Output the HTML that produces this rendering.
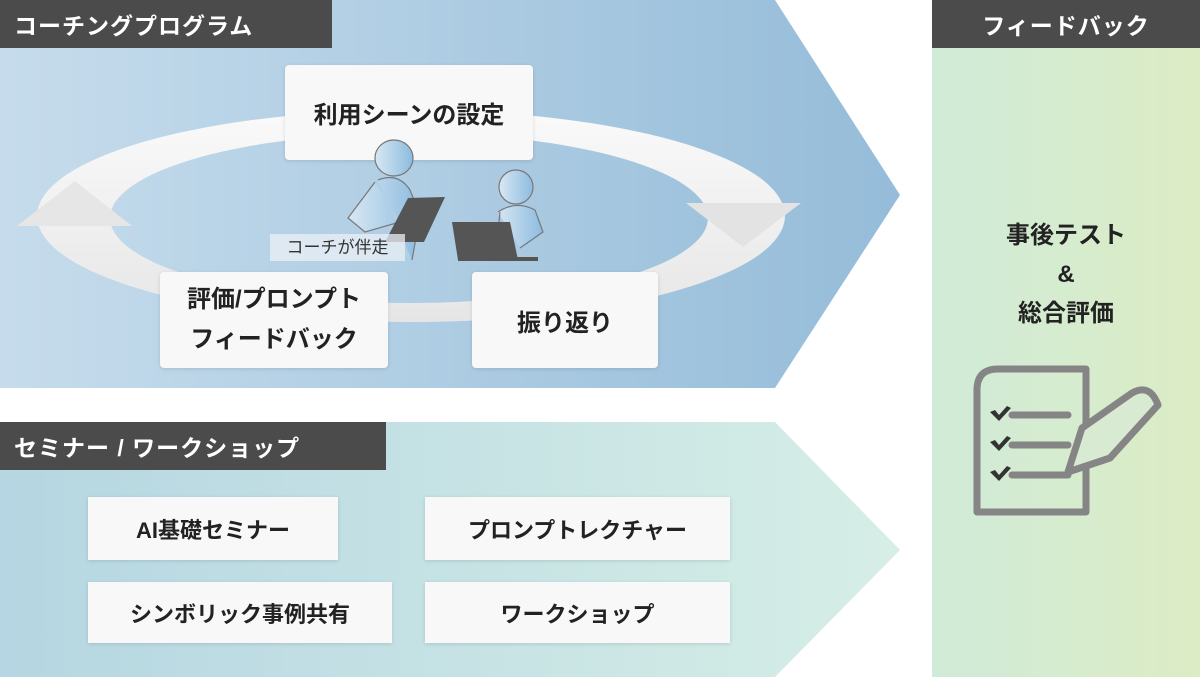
<!DOCTYPE html>
<html><head><meta charset="utf-8"><style>
body{margin:0;width:1200px;height:677px;position:relative;overflow:hidden;background:#fff;font-family:"Liberation Sans","Noto Sans CJK JP",sans-serif}
.abs{position:absolute}
.hdr{position:absolute;background:#4b4b4b;color:#fff;font-size:23px;font-weight:bold;display:flex;align-items:center;padding-left:14px;box-sizing:border-box;letter-spacing:1px}
.box{position:absolute;background:#f8f8f8;border-radius:4px;display:flex;align-items:center;justify-content:center;text-align:center;font-weight:bold;color:#222;box-shadow:0 1px 4px rgba(0,0,0,.12)}
</style></head><body>
<svg class="abs" style="left:0;top:0" width="1200" height="677">
<defs>
<linearGradient id="g1" x1="0" x2="1"><stop offset="0" stop-color="#c6dcec"/><stop offset="1" stop-color="#95bcd9"/></linearGradient>
<linearGradient id="g2" x1="0" x2="1"><stop offset="0" stop-color="#b5d6e2"/><stop offset="1" stop-color="#d6eee6"/></linearGradient>
<linearGradient id="g3" x1="0" x2="1"><stop offset="0" stop-color="#d0ebd9"/><stop offset="1" stop-color="#dcecc4"/></linearGradient>
<linearGradient id="rg" x1="0" y1="0" x2="0" y2="1"><stop offset="0" stop-color="#fafafa"/><stop offset="1" stop-color="#e6e6e6"/></linearGradient>
</defs>
<polygon points="0,0 775,0 900,195 775,388 0,388" fill="url(#g1)"/>
<polygon points="0,422 775,422 900,550 775,677 0,677" fill="url(#g2)"/>
<rect x="932" y="0" width="268" height="677" fill="url(#g3)"/>
<path fill-rule="evenodd" fill="url(#rg)" d="M37,216 a374,106 0 1,0 748,0 a374,106 0 1,0 -748,0 Z M110,218 a299,85 0 1,0 598,0 a299,85 0 1,0 -598,0 Z"/>
<polygon points="17,226 132,226 75,181" fill="#e6e6e6"/>
<polygon points="686,203 801,203 743,247" fill="#e3e3e3"/>
<g fill="none" stroke="#858585" stroke-width="7" stroke-linejoin="round" stroke-linecap="round">
<path d="M1086,425 V512 H977 V390 Q977,369 998,369 H1086 V430"/>
<path d="M1012,415 H1068 M1012,445 H1068 M1012,475 H1068"/>
<path d="M1068,472 L1082,428 L1132,393 Q1150,383 1158,405 L1110,458 Z" fill="#d8ebd2"/>
</g>
<g fill="#333"><path d="M990,412 l5,-2 4,5 8,-9 4,2 -12,13z"/><path d="M990,442 l5,-2 4,5 8,-9 4,2 -12,13z"/><path d="M990,472 l5,-2 4,5 8,-9 4,2 -12,13z"/></g>
</svg>
<div class="hdr" style="left:0;top:0;width:332px;height:48px">コーチングプログラム</div>
<div class="hdr" style="left:0;top:422px;width:386px;height:48px">セミナー / ワークショップ</div>
<div class="hdr" style="left:932px;top:0;width:268px;height:48px;justify-content:center;padding:0">フィードバック</div>
<div class="box" style="left:285px;top:65px;width:248px;height:95px;font-size:24px">利用シーンの設定</div>
<div class="box" style="left:160px;top:272px;width:228px;height:96px;font-size:24px;line-height:40px">評価/プロンプト<br>フィードバック</div>
<div class="box" style="left:472px;top:272px;width:186px;height:96px;font-size:24px">振り返り</div>
<svg class="abs" style="left:0;top:0" width="900" height="390">
<defs><linearGradient id="hd" x1="0" x2="1"><stop offset="0" stop-color="#d8e8f3"/><stop offset="1" stop-color="#8dbbe0"/></linearGradient></defs>
<g stroke="#777" stroke-width="1.2" fill="url(#hd)">
<ellipse cx="394" cy="158" rx="19" ry="18"/>
<path d="M378,180 Q398,172 410,190 L420,215 L412,260 M375,182 L348,218 L365,232 L400,222"/>
<ellipse cx="516" cy="187" rx="17" ry="17"/>
<path d="M498,212 Q516,200 535,210 L543,232 L520,248 M500,212 L496,250"/>
</g>
<polygon points="408,198 445,197 424,242 385,242" fill="#555"/>
<polygon points="452,222 510,222 518,260 458,260" fill="#555"/>
<rect x="458" y="257" width="80" height="4" fill="#555"/>
</svg>
<div class="abs" style="left:270px;top:234px;width:135px;height:27px;background:rgba(235,240,245,.75);font-size:17px;color:#333;line-height:27px;text-align:center">コーチが伴走</div>
<div class="abs" style="left:932px;top:216px;width:268px;text-align:center;font-size:24px;font-weight:bold;line-height:39px;color:#222">事後テスト<br>&amp;<br>総合評価</div>
<div class="box" style="left:88px;top:497px;width:250px;height:63px;font-size:22px;border-radius:0">AI基礎セミナー</div>
<div class="box" style="left:425px;top:497px;width:305px;height:63px;font-size:22px;border-radius:0">プロンプトレクチャー</div>
<div class="box" style="left:88px;top:582px;width:304px;height:61px;font-size:22px;border-radius:0">シンボリック事例共有</div>
<div class="box" style="left:425px;top:582px;width:305px;height:61px;font-size:22px;border-radius:0">ワークショップ</div>
</body></html>
